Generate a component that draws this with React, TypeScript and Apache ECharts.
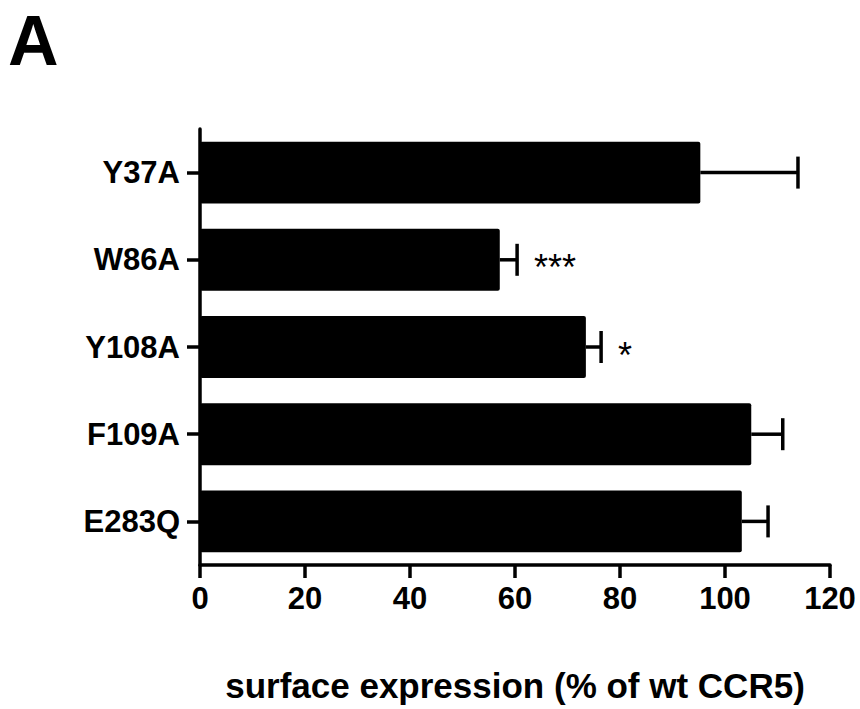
import React, { useEffect, useRef } from "react";
import * as echarts from "echarts";

const categories = ["Y37A", "W86A", "Y108A", "F109A", "E283Q"];
const means = [95.3, 57.1, 73.5, 105.0, 103.2];
const errors = [18.6, 3.3, 2.9, 6.0, 5.0];
const stars = ["", "***", "*", "", ""];
const xTicks = [0, 20, 40, 60, 80, 100, 120];

const FONT = "'Liberation Sans', Arial, Helvetica, sans-serif";

export default function App() {
  const ref = useRef<HTMLDivElement>(null);
  useEffect(() => {
    if (!ref.current) return;
    const chart = echarts.init(ref.current, undefined, { renderer: "svg" });
    const errData = categories.map((c, i) => [i, means[i], means[i] + errors[i]]);
    chart.setOption({
      animation: false,
      backgroundColor: "#ffffff",
      textStyle: { fontFamily: FONT },
      graphic: [
        {
          type: "text",
          left: 8,
          top: 6,
          style: { text: "A", font: `bold 70px ${FONT}`, fill: "#000" },
        },
      ],
      grid: { left: 200, right: 30, top: 129, bottom: 144, containLabel: false },
      xAxis: {
        type: "value",
        min: xTicks[0],
        max: xTicks[xTicks.length - 1],
        interval: 20,
        splitLine: { show: false },
        axisLine: { show: true, lineStyle: { color: "#000", width: 3.5 } },
        axisTick: { show: true, length: 13, lineStyle: { color: "#000", width: 3.5 } },
        axisLabel: {
          color: "#000",
          fontSize: 31,
          fontWeight: "bold",
          fontFamily: FONT,
          margin: 18,
        },
        name: "surface expression (% of wt CCR5)",
        nameLocation: "middle",
        nameGap: 103,
        nameTextStyle: { color: "#000", fontSize: 35, fontWeight: "bold", fontFamily: FONT },
      },
      yAxis: {
        type: "category",
        data: categories,
        inverse: true,
        axisLine: { show: true, lineStyle: { color: "#000", width: 3.5 } },
        axisTick: { show: true, alignWithLabel: true, length: 13, lineStyle: { color: "#000", width: 3.5 } },
        axisLabel: {
          color: "#000",
          fontSize: 31,
          fontWeight: "bold",
          fontFamily: FONT,
          margin: 20,
        },
      },
      series: [
        {
          type: "bar",
          data: means,
          barCategoryGap: "29%",
          itemStyle: { color: "#000", borderRadius: 2 },
          z: 2,
        },
        {
          type: "custom",
          data: errData,
          encode: { x: [1, 2], y: 0 },
          z: 3,
          renderItem: (params: any, api: any) => {
            const i = api.value(0);
            const p0 = api.coord([api.value(1), i]);
            const p1 = api.coord([api.value(2), i]);
            const half = 16;
            const children: any[] = [
              {
                type: "line",
                shape: { x1: p0[0], y1: p0[1], x2: p1[0], y2: p1[1] },
                style: { stroke: "#000", lineWidth: 3.5 },
              },
              {
                type: "line",
                shape: { x1: p1[0], y1: p1[1] - half, x2: p1[0], y2: p1[1] + half },
                style: { stroke: "#000", lineWidth: 3.5 },
              },
            ];
            const s = stars[params.dataIndex];
            if (s) {
              children.push({
                type: "text",
                x: p1[0] + 17,
                y: p1[1] + 8,
                style: {
                  text: s,
                  fontSize: 36,
                  fontFamily: FONT,
                  fill: "#000",
                  textAlign: "left",
                  textVerticalAlign: "middle",
                },
              });
            }
            return { type: "group", children };
          },
        },
      ],
    });
    return () => chart.dispose();
  }, []);
  return (
    <div
      ref={ref}
      style={{ position: "absolute", left: 0, top: 0, width: 860, height: 709 }}
    />
  );
}
